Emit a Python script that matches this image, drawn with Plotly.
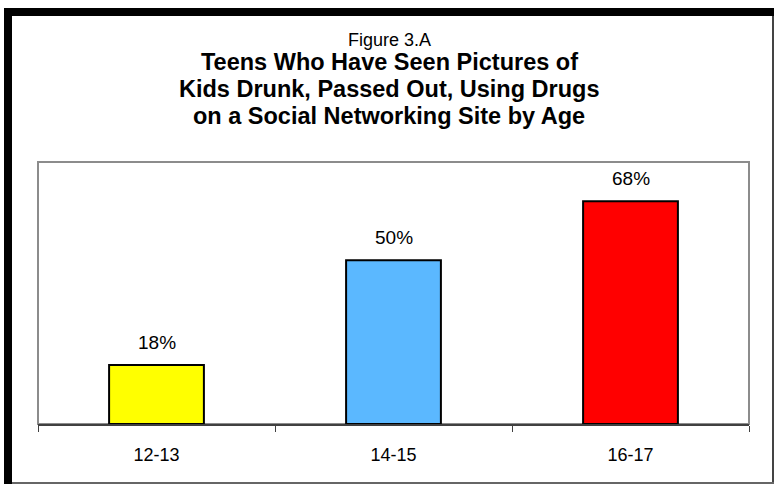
import plotly.graph_objects as go

categories = ["12-13", "14-15", "16-17"]
values = [18, 50, 68]
bar_colors = ["#FFFF00", "#5BB8FF", "#FF0000"]
label_texts = ["18%", "50%", "68%"]
title_small = "Figure 3.A"
title_lines = ["Teens Who Have Seen Pictures of",
               "Kids Drunk, Passed Out, Using Drugs",
               "on a Social Networking Site by Age"]

W, H = 775, 485
L, R, T, B = 38, 26, 162, 61
PW, PH = W - L - R, H - T - B

def px(x):
    return (x - L) / PW

def py(y):
    return (H - B - y) / PH

FONT = "Liberation Sans, Arial, sans-serif"

fig = go.Figure()
fig.add_trace(go.Bar(
    x=categories, y=values, width=0.4,
    marker=dict(color=bar_colors, line=dict(color="black", width=2)),
    hoverinfo="skip",
))

annotations = []
for c, v, t in zip(categories, values, label_texts):
    annotations.append(dict(x=c, y=v, xref="x", yref="y", text=t, showarrow=False,
                            yanchor="bottom", yshift=10,
                            font=dict(family=FONT, size=19, color="black")))
annotations.append(dict(x=px(389), y=py(40), xref="paper", yref="paper", text=title_small,
                        showarrow=False, xanchor="center", yanchor="middle",
                        font=dict(family=FONT, size=18, color="black")))
for i, line in enumerate(title_lines):
    annotations.append(dict(x=px(389), y=py(62 + 27 * i), xref="paper", yref="paper",
                            text="<b>" + line + "</b>", showarrow=False,
                            xanchor="center", yanchor="middle",
                            font=dict(family=FONT, size=23.5, color="black")))

shapes = [
    dict(type="rect", xref="paper", yref="paper", x0=0, x1=1, y0=0, y1=1,
         line=dict(color="#8C8C8C", width=2), fillcolor="rgba(0,0,0,0)", layer="below"),
    dict(type="rect", xref="paper", yref="paper", x0=px(4), x1=px(774), y0=py(16), y1=py(8),
         line=dict(width=0), fillcolor="black"),
    dict(type="rect", xref="paper", yref="paper", x0=px(4), x1=px(12), y0=py(484), y1=py(8),
         line=dict(width=0), fillcolor="black"),
    dict(type="rect", xref="paper", yref="paper", x0=px(772), x1=px(774), y0=py(484), y1=py(16),
         line=dict(width=0), fillcolor="#444444"),
    dict(type="rect", xref="paper", yref="paper", x0=px(12), x1=px(774), y0=py(484), y1=py(482),
         line=dict(width=0), fillcolor="#666666"),
]

fig.update_layout(
    width=W, height=H,
    margin=dict(l=L, r=R, t=T, b=B, pad=0),
    paper_bgcolor="white", plot_bgcolor="white",
    showlegend=False,
    annotations=annotations,
    shapes=shapes,
    font=dict(family=FONT, size=16, color="black"),
    xaxis=dict(type="category", showgrid=False, showline=True, linecolor="#404040", linewidth=1.5,
               ticks="outside", tickson="boundaries", ticklen=6, tickcolor="#404040",
               tickfont=dict(family=FONT, size=18, color="black"), ticklabelstandoff=14,
               range=[-0.5, 2.5], fixedrange=True),
    yaxis=dict(range=[0, 80], showgrid=False, showticklabels=False, showline=False,
               zeroline=False, ticks="", fixedrange=True),
)

fig.write_html("out.html", config={"displayModeBar": False},
               post_script="document.body.style.margin='0';document.body.style.overflow='hidden';")
